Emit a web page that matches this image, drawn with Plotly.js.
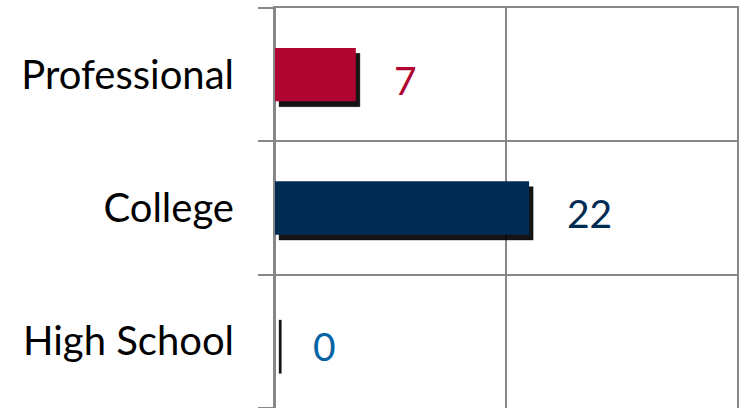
<!DOCTYPE html>
<html>
<head>
<meta charset="utf-8">
<script src="https://cdn.plot.ly/plotly-3.0.1.min.js"></script>
<style>html,body{margin:0;padding:0;background:#fff;}#chart{width:740px;height:408px;}</style>
</head>
<body>
<div id="chart"></div>
<script>
// Data (bottom to top)
const categories = ["High School", "College", "Professional"];
const values = [0, 22, 7];
const barColors = ["#0A5C99", "#002B52", "#B00530"];
const labelColors = ["#0563A6", "#002B52", "#B00530"];

const shadow = {
  type: "bar", orientation: "h",
  y: categories,
  x: values.map(v => Math.max(v, 0.2)),
  base: 0.35,
  width: 0.4,
  offset: -0.24,
  marker: {color: "rgba(0,0,0,0.92)", line: {width: 1, color: "rgba(0,0,0,0.35)"}},
  hoverinfo: "skip", showlegend: false
};
const bars = {
  type: "bar", orientation: "h",
  y: categories,
  x: values,
  width: 0.4,
  marker: {color: barColors, line: {width: 0}},
  showlegend: false
};

const annotations = categories.map((c, i) => ({
  x: values[i], y: c, xref: "x", yref: "y",
  text: String(values[i]), showarrow: false,
  xanchor: "left", yanchor: "middle", xshift: 36, yshift: -5,
  font: {family: "Lato, 'Open Sans', sans-serif", size: 39, color: labelColors[i]}
}));

const grid = "#878787";
const layout = {
  width: 740, height: 408,
  margin: {l: 275, r: 3, t: 8, b: 0, pad: 0},
  paper_bgcolor: "#fff", plot_bgcolor: "#fff",
  barmode: "overlay",
  showlegend: false,
  xaxis: {
    range: [0, 40], dtick: 20, showticklabels: false, side: "top",
    showgrid: true, gridcolor: grid, gridwidth: 2,
    zeroline: true, zerolinecolor: grid, zerolinewidth: 2,
    showline: true, linecolor: grid, linewidth: 2, mirror: false,
    ticks: "", fixedrange: true
  },
  yaxis: {
    type: "category", range: [-0.5, 2.5],
    tickson: "boundaries", ticks: "outside", ticklen: 15, tickcolor: grid, tickwidth: 2,
    showgrid: true, gridcolor: grid, gridwidth: 2,
    zeroline: false, showline: true, linecolor: grid, linewidth: 2, mirror: true,
    ticklabelstandoff: 31,
    tickfont: {family: "Lato, 'Open Sans', sans-serif", size: 40, color: "#000"},
    fixedrange: true
  },
  annotations: annotations
};

Plotly.newPlot("chart", [shadow, bars], layout, {displayModeBar: false, staticPlot: true});
</script>
</body>
</html>
